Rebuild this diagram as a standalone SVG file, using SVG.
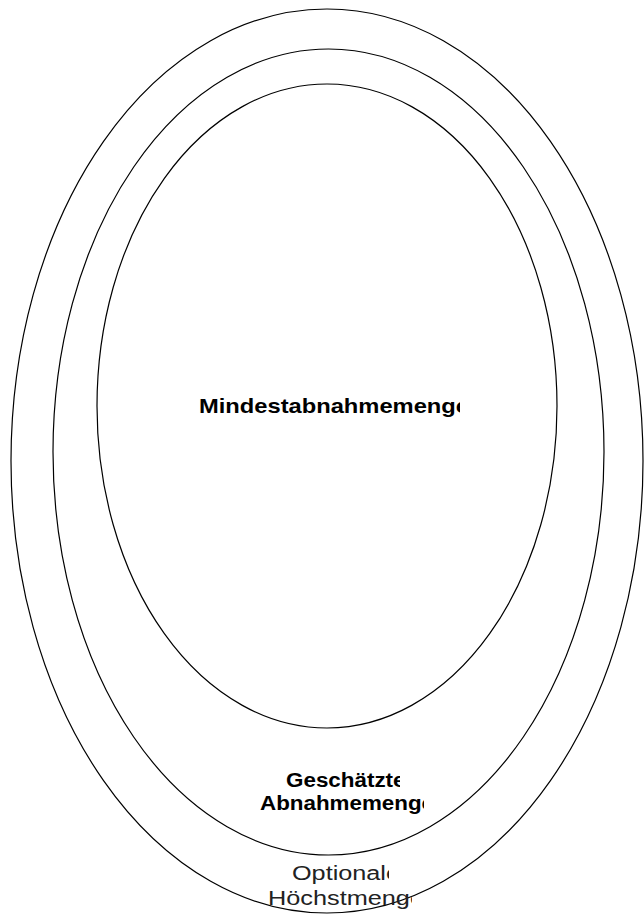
<svg xmlns="http://www.w3.org/2000/svg" width="644" height="916" viewBox="0 0 644 916">
<style>
.sh{fill:none;stroke:#000;stroke-width:1.2}
.b{font-family:"Liberation Sans",Arial,sans-serif;font-weight:bold;fill:#000}
.r{font-family:"Liberation Sans",Arial,sans-serif;font-weight:normal;fill:#222}
</style>
<defs>
<clipPath id="c1"><rect x="0" y="380" width="460" height="50"/></clipPath>
<clipPath id="c2"><rect x="0" y="760" width="400" height="32"/></clipPath>
<clipPath id="c3"><rect x="0" y="792" width="424" height="25"/></clipPath>
<clipPath id="c4"><rect x="0" y="855" width="389" height="30"/></clipPath>
<clipPath id="c5"><rect x="0" y="885" width="412" height="31"/></clipPath>
</defs>
<rect width="644" height="916" fill="#fff"/>
<g id="optionale-hoechstmenge">
<ellipse class="sh" cx="327" cy="461" rx="316" ry="452"/>
<g clip-path="url(#c4)"><text class="r" x="292" y="880" font-size="20" textLength="108" lengthAdjust="spacingAndGlyphs">Optionale</text></g>
<g clip-path="url(#c5)"><text class="r" x="268" y="905" font-size="20" textLength="156" lengthAdjust="spacingAndGlyphs">Höchstmenge</text></g>
</g>
<g id="geschaetzte-abnahmemenge">
<ellipse class="sh" cx="328.5" cy="452" rx="275.5" ry="403"/>
<g clip-path="url(#c2)"><text class="b" x="286" y="787" font-size="20" textLength="119.5" lengthAdjust="spacingAndGlyphs">Geschätzte</text></g>
<g clip-path="url(#c3)"><text class="b" x="260" y="810" font-size="20" textLength="174" lengthAdjust="spacingAndGlyphs">Abnahmemenge</text></g>
</g>
<g id="mindestabnahmemenge">
<ellipse class="sh" cx="327" cy="406" rx="230" ry="322"/>
<g clip-path="url(#c1)"><text class="b" x="199" y="413" font-size="21" textLength="270" lengthAdjust="spacingAndGlyphs">Mindestabnahmemenge</text></g>
</g>
<g id="connectors"/>
</svg>
